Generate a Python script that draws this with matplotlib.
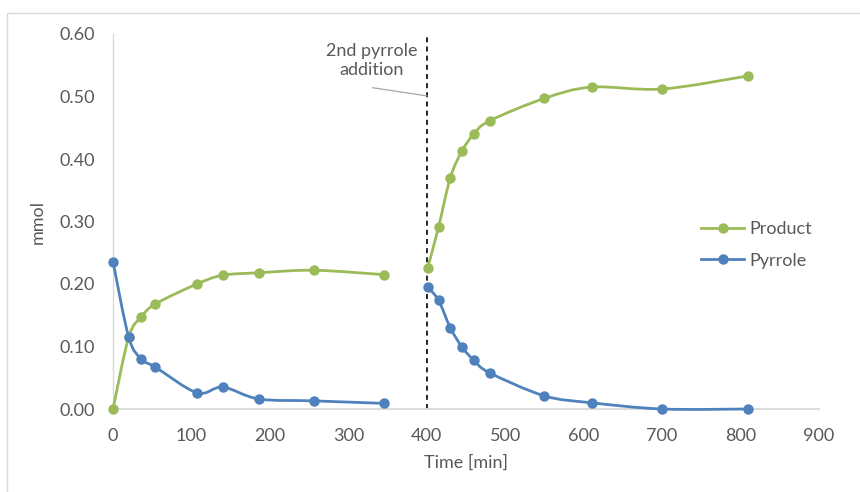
import matplotlib
matplotlib.use("Agg")
import matplotlib.pyplot as plt
import numpy as np
from matplotlib.path import Path
from matplotlib.patches import PathPatch, Rectangle
from matplotlib.lines import Line2D

plt.rcParams['font.family'] = ['Lato', 'DejaVu Sans']

# Reaction run 1 (before the second pyrrole addition)
time_1 = [0, 20, 36, 54, 107, 140, 186, 256, 345]
product_1 = [0.000, 0.115, 0.147, 0.168, 0.200, 0.214, 0.218, 0.222, 0.215]
pyrrole_1 = [0.236, 0.115, 0.080, 0.067, 0.026, 0.035, 0.016, 0.013, 0.009]

# Reaction run 2 (after the second pyrrole addition)
time_2 = [401, 415, 430, 445, 460, 480, 550, 610, 700, 810]
product_2 = [0.225, 0.291, 0.370, 0.413, 0.440, 0.461, 0.497, 0.515, 0.512, 0.533]
pyrrole_2 = [0.195, 0.174, 0.130, 0.099, 0.078, 0.058, 0.021, 0.010, 0.000, 0.000]

addition_time = 400
x_ticks = [0, 100, 200, 300, 400, 500, 600, 700, 800, 900]
y_ticks = [0.0, 0.1, 0.2, 0.3, 0.4, 0.5, 0.6]

GREEN = '#9BBB59'
BLUE = '#4F81BD'
TEXT = '#595959'
AXIS = '#D9D9D9'
FS = 13


def smooth_path(xs, ys):
    """Cubic Bezier path through the points (spreadsheet-style smoothing)."""
    pts = np.column_stack([xs, ys]).astype(float)
    n = len(pts)
    verts = [pts[0]]
    codes = [Path.MOVETO]
    for i in range(n - 1):
        p_prev = pts[i - 1] if i > 0 else pts[i]
        p0 = pts[i]
        p1 = pts[i + 1]
        p_next = pts[i + 2] if i + 2 < n else pts[i + 1]
        c1 = p0 + (p1 - p_prev) / 6.0
        c2 = p1 - (p_next - p0) / 6.0
        verts += [c1, c2, p1]
        codes += [Path.CURVE4] * 3
    return Path(verts, codes)


fig = plt.figure(figsize=(8.6, 4.92), dpi=100)
ax = fig.add_axes([113 / 860, 1 - 409 / 492, (819 - 113) / 860, (409 - 34) / 492])

# outer chart frame
fig.patches.append(Rectangle((7 / 860, -0.2), 1.5, 1.2 - 13 / 492,
                             transform=fig.transFigure, fill=False,
                             edgecolor=AXIS, linewidth=1.0, zorder=0))

for xs, ys, col in [(time_1, product_1, GREEN), (time_2, product_2, GREEN),
                    (time_1, pyrrole_1, BLUE), (time_2, pyrrole_2, BLUE)]:
    ax.add_patch(PathPatch(smooth_path(xs, ys), facecolor='none',
                           edgecolor=col, linewidth=2.0, capstyle='round',
                           joinstyle='round', zorder=3, clip_on=False))
    ax.plot(xs, ys, 'o', color=col, markersize=7.5, zorder=4,
            markeredgewidth=0, clip_on=False)

ax.axvline(addition_time, ymin=0, ymax=1, color='black', linestyle=(0, (3, 2.5)),
           linewidth=1.2, zorder=2)

ax.text(330, 0.557, '2nd pyrrole\naddition', ha='center', va='center',
        fontsize=FS, color=TEXT, linespacing=1.25)
ax.plot([331, 400], [0.514, 0.501], color='#A6A6A6', linewidth=0.9, zorder=2)

ax.set_xlim(0, 900)
ax.set_ylim(0, 0.6)
ax.set_xticks(x_ticks)
ax.set_yticks(y_ticks)
ax.set_yticklabels([f'{v:.2f}' for v in y_ticks])
ax.tick_params(axis='both', length=0, labelsize=FS, labelcolor=TEXT)
ax.tick_params(axis='y', pad=13)
ax.tick_params(axis='x', pad=14)

for side in ['top', 'right']:
    ax.spines[side].set_visible(False)
ax.spines['left'].set_color(AXIS)
ax.spines['bottom'].set_color(AXIS)
ax.spines['left'].set_linewidth(1.0)
ax.spines['bottom'].set_linewidth(1.3)

ax.set_xlabel('Time [min]', fontsize=FS, color=TEXT, labelpad=7)
ax.set_ylabel('mmol', fontsize=FS, color=TEXT, labelpad=10)

handles = [Line2D([], [], color=GREEN, linewidth=2.0, marker='o', markersize=7.5,
                  markeredgewidth=0),
           Line2D([], [], color=BLUE, linewidth=2.0, marker='o', markersize=7.5,
                  markeredgewidth=0)]
leg = ax.legend(handles, ['Product', 'Pyrrole'], loc='center left',
                bbox_to_anchor=(0.81, 0.437), frameon=False, fontsize=FS,
                handlelength=2.4, handletextpad=0.25, labelspacing=0.85)
for t in leg.get_texts():
    t.set_color(TEXT)

fig.savefig('out.png', dpi=100)
